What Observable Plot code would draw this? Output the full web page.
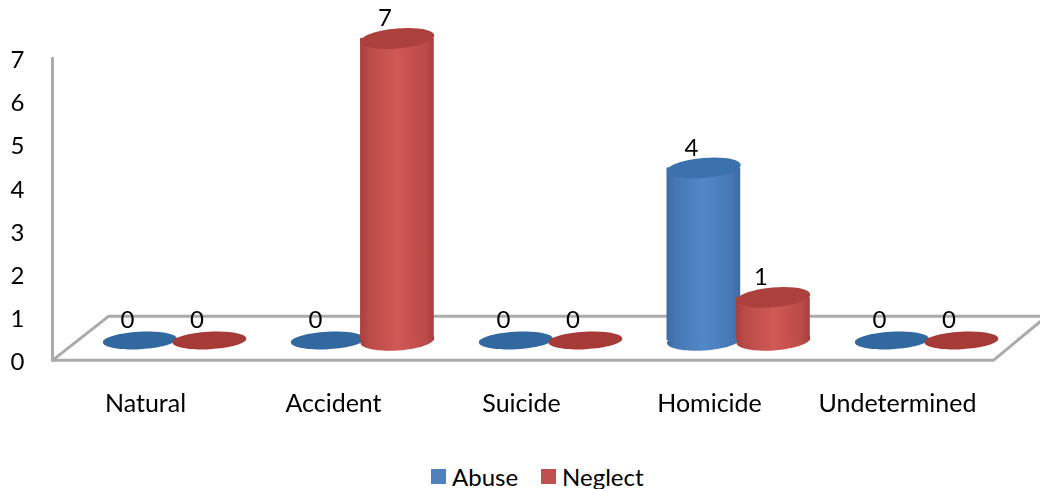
<!DOCTYPE html>
<html>
<head>
<meta charset="utf-8">
<script src="https://cdn.jsdelivr.net/npm/d3@7"></script>
<script src="https://cdn.jsdelivr.net/npm/@observablehq/plot@0.6"></script>
<style>
html,body{margin:0;padding:0;background:#fff;width:1040px;height:489px;overflow:hidden}
svg{display:block;filter:blur(.4px)}
#legend{display:flex;align-items:center;height:26px;margin-top:8px;padding-left:431px;font:24px Lato,sans-serif;color:#000}
#legend i{display:inline-block;width:15px;height:15px;margin-right:6px}
#legend span{display:flex;align-items:center;margin-right:23px}
</style>
</head>
<body>
<div id="chart"></div>
<div id="legend"></div>
<script>
const categories = ["Natural", "Accident", "Suicide", "Homicide", "Undetermined"];
const abuse = [0, 0, 0, 4, 0];
const neglect = [0, 7, 0, 1, 0];
const yTicks = [0, 1, 2, 3, 4, 5, 6, 7];
const seriesNames = ["Abuse", "Neglect"];
const floorFrontX = [-0.495, 4.51];
const floorBackX = [-0.197, 4.76];
const floorFrontY = 0.05;
const floorBackY = 1.07;
const wallTopY = 7.05;

const toRows = (values, offset) => categories.map((c, i) => ({c, i, v: values[i], pos: i + offset}));
const radius = 0.196;
const base = -22;

const ellipse = (ratio) => ({
  draw(ctx, size) {
    const rx = Math.sqrt(size / Math.PI), ry = rx * ratio, k = 0.5523;
    ctx.moveTo(-rx, 0);
    ctx.bezierCurveTo(-rx, -k * ry, -k * rx, -ry, 0, -ry);
    ctx.bezierCurveTo(k * rx, -ry, rx, -k * ry, rx, 0);
    ctx.bezierCurveTo(rx, k * ry, k * rx, ry, 0, ry);
    ctx.bezierCurveTo(-k * rx, ry, -rx, k * ry, -rx, 0);
    ctx.closePath();
  }
});
const grad = (id, a, b, c) => `<linearGradient id="${id}" x1="0" x2="1" y1="0" y2="0">
  <stop offset="0" stop-color="${a}"/><stop offset=".12" stop-color="${b}"/>
  <stop offset=".5" stop-color="${c}"/><stop offset=".88" stop-color="${b}"/><stop offset="1" stop-color="${a}"/></linearGradient>`;
const defs = () => d3.create("svg:defs").html(
  grad("gBlue", "#3b6ca6", "#4677b4", "#5288c8") + grad("gRed", "#a83f3c", "#bb4b48", "#d05855")
).node();

const cylinder = (rows, fill, cap, flatFill) => {
  const tall = rows.filter(d => d.v > 0);
  const flat = rows.filter(d => d.v === 0);
  return [
    Plot.dot(tall, {x: "pos", y: () => 0, dy: base, r: 37, symbol: ellipse(0.27), rotate: -4, fill, stroke: "none"}),
    Plot.rect(tall, {x1: d => d.pos - radius, x2: d => d.pos + radius, y1: () => 0, y2: "v", dy: base, fill}),
    Plot.dot(tall, {x: "pos", y: "v", dy: base, r: 37, symbol: ellipse(0.27), rotate: -5, fill: cap, stroke: "none"}),
    Plot.dot(flat, {x: "pos", y: "v", dy: base, r: 37, symbol: ellipse(0.235), rotate: -3, fill: flatFill, stroke: "none"})
  ];
};
const labels = rows => Plot.text(rows, {x: "pos", y: "v", text: d => String(d.v), dx: -12.5, dy: -42, fontSize: 24, fill: "#000"});

const rowsA = toRows(abuse, -0.03);
const rowsN = toRows(neglect, 0.34);
const gray = "#ababab";

const plot = Plot.plot({
  width: 1040, height: 455,
  marginLeft: 26, marginBottom: 68, marginTop: 0, marginRight: 0,
  style: {fontFamily: "Lato, sans-serif", background: "#fff", color: "#000"},
  x: {type: "linear", domain: [0, 4], range: [145, 897]},
  y: {type: "linear", domain: [0, 7], range: [362, 60]},
  marks: [
    defs,
    Plot.line([[floorFrontX[0], wallTopY], [floorFrontX[0], floorFrontY], [floorFrontX[1], floorFrontY], [floorBackX[1], floorBackY - 0.12]], {stroke: gray, strokeWidth: 3}),
    Plot.line([[floorFrontX[0], floorFrontY], [floorBackX[0], floorBackY], [floorBackX[1], floorBackY]], {stroke: gray, strokeWidth: 3}),
    Plot.axisY(yTicks, {anchor: "left", tickSize: 0, tickPadding: 2, fontSize: 24, fill: "#000", label: null}),
    Plot.axisX(d3.range(categories.length), {anchor: "bottom", tickSize: 0, tickPadding: 7, fontSize: 25, fill: "#000", label: null, tickFormat: i => categories[i]}),
    ...cylinder(rowsA, "url(#gBlue)", "#3b72ae", "#30689f"),
    ...cylinder(rowsN, "url(#gRed)", "#ab403c", "#a63a36"),
    labels(rowsA),
    labels(rowsN)
  ]
});
document.getElementById("chart").appendChild(plot);

const colors = ["#4f81bd", "#c0504d"];
d3.select("#legend").selectAll("span").data(seriesNames).join("span")
  .html((d, i) => `<i style="background:${colors[i]}"></i>${d}`);
</script>
</body>
</html>
